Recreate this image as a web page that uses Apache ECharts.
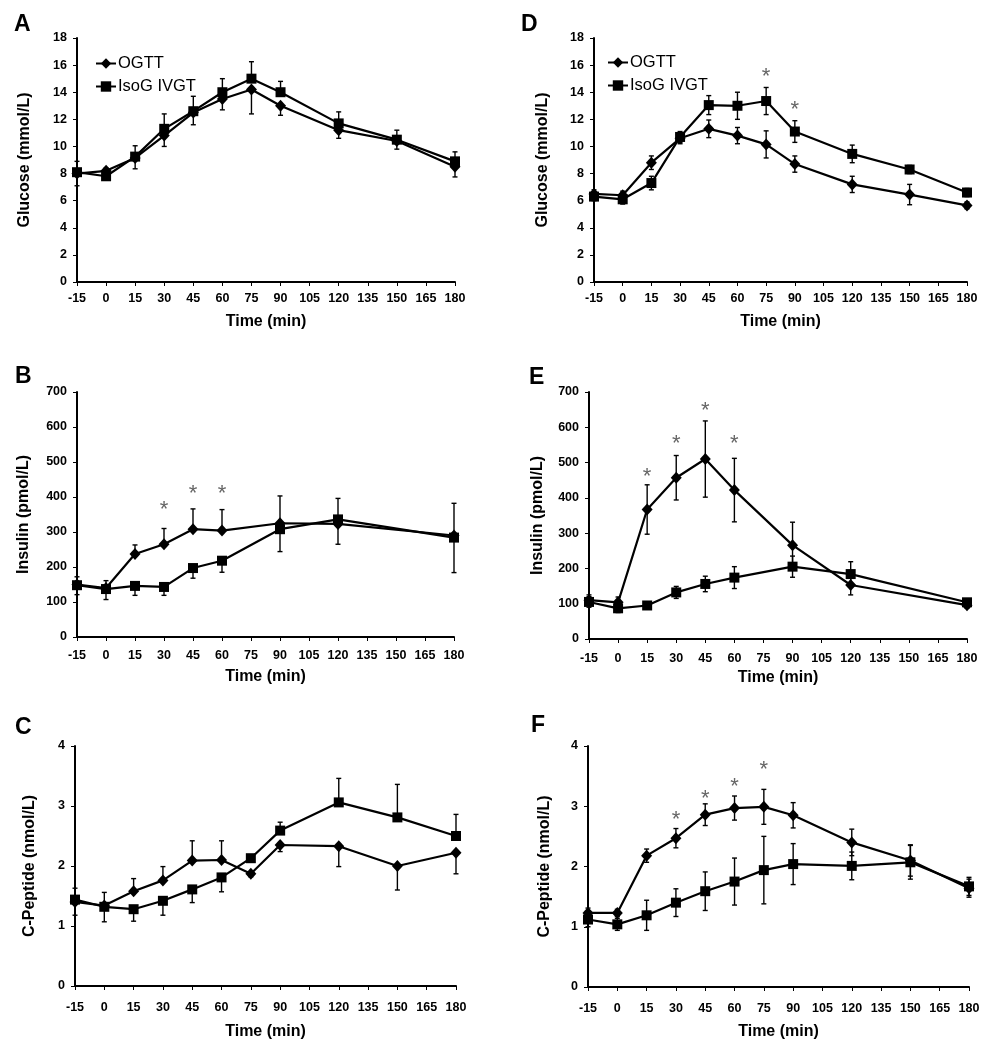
<!DOCTYPE html>
<html><head><meta charset="utf-8">
<script src="https://cdn.jsdelivr.net/npm/echarts@6/dist/echarts.min.js"></script>
<style>html,body{margin:0;padding:0;background:#fff}#c{width:992px;height:1050px}</style>
</head><body><div id="c"></div>
<script>
// ---------- DATA ----------
const timesGlucose = [-15, 0, 15, 30, 45, 60, 75, 90, 120, 150, 180];
const timesInsulin = [-15, 0, 15, 30, 45, 60, 90, 120, 180];
const timesCpeptide = [-15, 0, 15, 30, 45, 60, 75, 90, 120, 150, 180];

// Panel A - Glucose
const glucoseA_OGTT = [8.0, 8.2, 9.15, 10.8, 12.5, 13.5, 14.2, 13.0, 11.2, 10.4, 8.5];
const glucoseA_IsoG = [8.1, 7.8, 9.25, 11.3, 12.6, 14.0, 15.0, 14.0, 11.7, 10.5, 8.9];
const glucoseA_OGTT_err = [0.9, 0.2, 0.8, 0.8, 0.9, 0.8, 1.8, 0.7, 0.6, 0.6, 0.75];
const glucoseA_IsoG_err = [0.8, 0.2, 0.8, 1.1, 1.1, 1.0, 1.25, 0.8, 0.85, 0.7, 0.7];

// Panel D - Glucose
const glucoseD_OGTT = [6.5, 6.4, 8.8, 10.6, 11.3, 10.8, 10.15, 8.7, 7.2, 6.45, 5.65];
const glucoseD_IsoG = [6.3, 6.1, 7.3, 10.7, 13.05, 13.0, 13.35, 11.1, 9.45, 8.3, 6.6];
const glucoseD_OGTT_err = [0.3, 0.3, 0.5, 0.4, 0.65, 0.6, 1.0, 0.6, 0.6, 0.75, 0.25];
const glucoseD_IsoG_err = [0.3, 0.35, 0.5, 0.4, 0.7, 1.0, 1.0, 0.8, 0.65, 0.3, 0.3];
const glucoseD_starTimes = [75, 90];
const glucoseD_starValues = [15.5, 13.05];

// Panel B - Insulin
const insulinB_OGTT = [150, 140, 237, 265, 308, 304, 325, 323, 290];
const insulinB_IsoG = [148, 137, 146, 143, 197, 218, 308, 336, 284];
const insulinB_OGTT_err = [22, 21, 26, 45, 58, 60, 78, 58, 92];
const insulinB_IsoG_err = [27, 30, 27, 24, 29, 33, 64, 60, 100];
const insulinB_starTimes = [30, 45, 60];
const insulinB_starValues = [377, 424, 424];

// Panel E - Insulin
const insulinE_OGTT = [110, 104, 367, 457, 510, 422, 266, 153, 96];
const insulinE_IsoG = [105, 87, 95, 132, 156, 174, 205, 184, 104];
const insulinE_OGTT_err = [15, 15, 70, 63, 108, 90, 65, 28, 8];
const insulinE_IsoG_err = [15, 12, 10, 17, 22, 31, 30, 35, 8];
const insulinE_starTimes = [15, 30, 45, 60];
const insulinE_starValues = [474, 568, 660, 568];

// Panel C - C-Peptide
const cpepC_OGTT = [1.40, 1.34, 1.58, 1.76, 2.09, 2.10, 1.87, 2.35, 2.33, 2.00, 2.22];
const cpepC_IsoG = [1.44, 1.32, 1.28, 1.42, 1.61, 1.81, 2.13, 2.59, 3.06, 2.81, 2.50];
const cpepC_OGTT_err = [0.22, 0.22, 0.21, 0.23, 0.33, 0.32, 0.05, 0.11, 0.34, 0.40, 0.35];
const cpepC_IsoG_err = [0.19, 0.25, 0.20, 0.24, 0.22, 0.24, 0.05, 0.14, 0.40, 0.55, 0.36];

// Panel F - C-Peptide
const cpepF_OGTT = [1.23, 1.23, 2.18, 2.47, 2.86, 2.97, 2.99, 2.85, 2.40, 2.10, 1.64];
const cpepF_IsoG = [1.12, 1.04, 1.19, 1.40, 1.59, 1.75, 1.94, 2.04, 2.01, 2.07, 1.67];
const cpepF_OGTT_err = [0.08, 0.06, 0.11, 0.16, 0.18, 0.20, 0.29, 0.21, 0.22, 0.26, 0.15];
const cpepF_IsoG_err = [0.12, 0.10, 0.25, 0.23, 0.32, 0.39, 0.56, 0.34, 0.23, 0.28, 0.15];
const cpepF_starTimes = [30, 45, 60, 75];
const cpepF_starValues = [2.86, 3.21, 3.41, 3.69];

const seriesNames = ['OGTT', 'IsoG IVGT'];
const xAxisName = 'Time (min)';

// ---------- LAYOUT ----------
const FONT = '"Liberation Sans", Arial, Helvetica, sans-serif';
const panels = [
  {letter:'A', lx:14, ly:13, grid:{left:77, top:38, width:378, height:244}, times:timesGlucose,
   ogtt:glucoseA_OGTT, isog:glucoseA_IsoG, ogttErr:glucoseA_OGTT_err, isogErr:glucoseA_IsoG_err, mode:'outer',
   yMax:18, yInt:2, yName:'Glucose (mmol/L)', yGap:44, xGap:32, xMargin:10, legend:{left:95, top:55}},
  {letter:'D', lx:521, ly:13, grid:{left:594, top:38, width:373, height:244}, times:timesGlucose,
   ogtt:glucoseD_OGTT, isog:glucoseD_IsoG, ogttErr:glucoseD_OGTT_err, isogErr:glucoseD_IsoG_err, mode:'both',
   yMax:18, yInt:2, yName:'Glucose (mmol/L)', yGap:43, xGap:32, xMargin:10, legend:{left:607, top:54},
   starT:glucoseD_starTimes, starV:glucoseD_starValues},
  {letter:'B', lx:15, ly:365, grid:{left:77, top:392, width:377, height:245}, times:timesInsulin,
   ogtt:insulinB_OGTT, isog:insulinB_IsoG, ogttErr:insulinB_OGTT_err, isogErr:insulinB_IsoG_err, mode:'outer',
   yMax:700, yInt:100, yName:'Insulin (pmol/L)', yGap:45, xGap:32, xMargin:12,
   starT:insulinB_starTimes, starV:insulinB_starValues},
  {letter:'E', lx:529, ly:366, grid:{left:589, top:392, width:378, height:247}, times:timesInsulin,
   ogtt:insulinE_OGTT, isog:insulinE_IsoG, ogttErr:insulinE_OGTT_err, isogErr:insulinE_IsoG_err, mode:'both',
   yMax:700, yInt:100, yName:'Insulin (pmol/L)', yGap:43, xGap:31, xMargin:13,
   starT:insulinE_starTimes, starV:insulinE_starValues},
  {letter:'C', lx:15, ly:716, grid:{left:75, top:746, width:381, height:240}, times:timesCpeptide,
   ogtt:cpepC_OGTT, isog:cpepC_IsoG, ogttErr:cpepC_OGTT_err, isogErr:cpepC_IsoG_err, mode:'outer',
   yMax:4, yInt:1, yName:'C-Peptide (nmol/L)', yGap:37, xGap:38, xMargin:15},
  {letter:'F', lx:531, ly:714, grid:{left:588, top:746, width:381, height:241}, times:timesCpeptide,
   ogtt:cpepF_OGTT, isog:cpepF_IsoG, ogttErr:cpepF_OGTT_err, isogErr:cpepF_IsoG_err, mode:'both',
   yMax:4, yInt:1, yName:'C-Peptide (nmol/L)', yGap:35, xGap:37, xMargin:15,
   starT:cpepF_starTimes, starV:cpepF_starValues}
];

function errData(times, vals, errs, other, mode) {
  return times.map((t, i) => {
    let up = errs[i], dn = errs[i];
    if (mode === 'outer') {
      if (vals[i] >= other[i]) dn = 0; else up = 0;
    }
    return [t, vals[i], up, dn];
  });
}

function renderErr(params, api) {
  const t = api.value(0), v = api.value(1), up = api.value(2), dn = api.value(3);
  const p = api.coord([t, v]);
  const cap = 2.5;
  const st = {stroke:'#000', lineWidth:1.4};
  const ch = [];
  if (up > 0) {
    const q = api.coord([t, v + up]);
    ch.push({type:'line', shape:{x1:p[0], y1:p[1], x2:q[0], y2:q[1]}, style:st});
    ch.push({type:'line', shape:{x1:q[0]-cap, y1:q[1], x2:q[0]+cap, y2:q[1]}, style:st});
  }
  if (dn > 0) {
    const q = api.coord([t, v - dn]);
    ch.push({type:'line', shape:{x1:p[0], y1:p[1], x2:q[0], y2:q[1]}, style:st});
    ch.push({type:'line', shape:{x1:q[0]-cap, y1:q[1], x2:q[0]+cap, y2:q[1]}, style:st});
  }
  return {type:'group', children:ch};
}

function renderStar(params, api) {
  const p = api.coord([api.value(0), api.value(1)]);
  return {type:'text', x:p[0], y:p[1] + 5,
    style:{text:'*', fill:'#666', font:'22px ' + FONT, align:'center', verticalAlign:'middle'}};
}

const grids = [], xAxes = [], yAxes = [], series = [], graphics = [], legends = [];
panels.forEach((pn, k) => {
  grids.push(Object.assign({containLabel:false}, pn.grid));
  xAxes.push({type:'value', gridIndex:k, min:-15, max:180, interval:15,
    name:xAxisName, nameLocation:'middle', nameGap:pn.xGap,
    nameTextStyle:{fontFamily:FONT, fontSize:16, fontWeight:'bold', color:'#000'},
    axisLine:{onZero:false, lineStyle:{color:'#000', width:2}},
    axisTick:{show:true, length:4, lineStyle:{color:'#000', width:1}},
    axisLabel:{margin:pn.xMargin, fontFamily:FONT, fontSize:12.5, fontWeight:'bold', color:'#000'},
    splitLine:{show:false}});
  yAxes.push({type:'value', gridIndex:k, min:0, max:pn.yMax, interval:pn.yInt,
    name:pn.yName, nameLocation:'middle', nameGap:pn.yGap,
    nameTextStyle:{fontFamily:FONT, fontSize:16, fontWeight:'bold', color:'#000'},
    axisLine:{show:true, onZero:false, lineStyle:{color:'#000', width:2}},
    axisTick:{show:true, length:4, lineStyle:{color:'#000', width:1}},
    axisLabel:{margin:10, fontFamily:FONT, fontSize:12.5, fontWeight:'bold', color:'#000'},
    splitLine:{show:false}});
  series.push({type:'custom', name:'errO' + k, xAxisIndex:k, yAxisIndex:k, renderItem:renderErr,
    data:errData(pn.times, pn.ogtt, pn.ogttErr, pn.isog, pn.mode), encode:{x:0, y:1}, clip:false, z:1, silent:true});
  series.push({type:'custom', name:'errI' + k, xAxisIndex:k, yAxisIndex:k, renderItem:renderErr,
    data:errData(pn.times, pn.isog, pn.isogErr, pn.ogtt, pn.mode), encode:{x:0, y:1}, clip:false, z:1, silent:true});
  series.push({type:'line', name:seriesNames[0], xAxisIndex:k, yAxisIndex:k,
    data:pn.times.map((t, i) => [t, pn.ogtt[i]]), symbol:'diamond', symbolSize:[11, 12],
    itemStyle:{color:'#000'}, lineStyle:{color:'#000', width:2.2}, z:3});
  series.push({type:'line', name:seriesNames[1], xAxisIndex:k, yAxisIndex:k,
    data:pn.times.map((t, i) => [t, pn.isog[i]]), symbol:'rect', symbolSize:10,
    itemStyle:{color:'#000'}, lineStyle:{color:'#000', width:2.2}, z:3});
  if (pn.starT) {
    series.push({type:'custom', name:'star' + k, xAxisIndex:k, yAxisIndex:k, renderItem:renderStar,
      data:pn.starT.map((t, i) => [t, pn.starV[i]]), encode:{x:0, y:1}, clip:false, z:4, silent:true});
  }
  graphics.push({type:'text', left:pn.lx, top:pn.ly,
    style:{text:pn.letter, font:'bold 23px ' + FONT, fill:'#000'}});
  if (pn.legend) {
    legends.push({left:pn.legend.left, top:pn.legend.top, orient:'vertical', data:seriesNames,
      itemWidth:20, itemHeight:13, itemGap:6, padding:0, selectedMode:false,
      textStyle:{fontFamily:FONT, fontSize:16.5, color:'#000', padding:[0,0,0,-3]}});
  }
});

const chart = echarts.init(document.getElementById('c'), null, {renderer:'canvas'});
chart.setOption({
  animation:false,
  backgroundColor:'#fff',
  grid:grids, xAxis:xAxes, yAxis:yAxes, series:series, legend:legends, graphic:graphics
});
</script></body></html>
